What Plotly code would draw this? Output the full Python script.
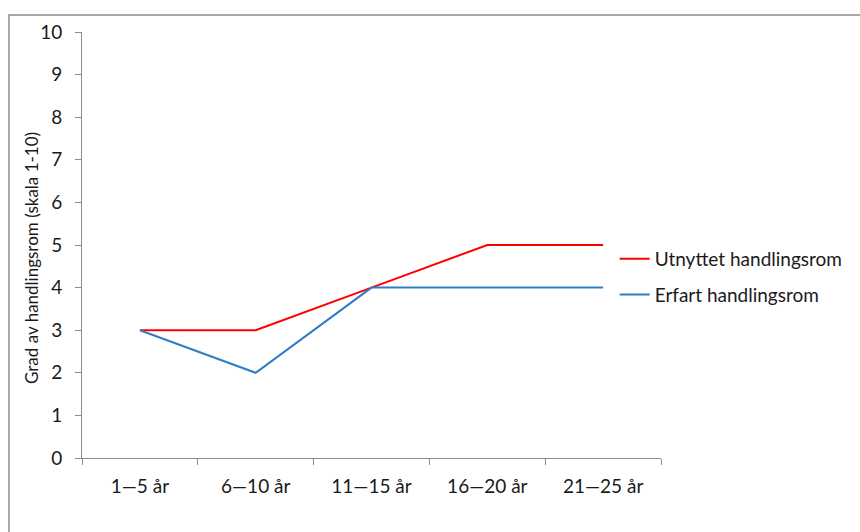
import plotly.graph_objects as go

categories = ["1—5 år", "6—10 år", "11—15 år", "16—20 år", "21—25 år"]
utnyttet = [3, 3, 4, 5, 5]
erfart = [3, 2, 4, 4, 4]
y_ticks = list(range(0, 11))

FONT = "Lato"
AXIS_GREY = "#8c8c8c"
TEXT = "#1a1a1a"

fig = go.Figure()
fig.add_trace(go.Scatter(
    x=categories, y=utnyttet, mode="lines", name="Utnyttet handlingsrom",
    line=dict(color="#ff0000", width=2), legendgroup="a",
))
fig.add_trace(go.Scatter(
    x=categories, y=erfart, mode="lines", name="Erfart handlingsrom",
    line=dict(color="#2e7dc6", width=2), legendgroup="b",
))

fig.update_layout(
    width=860, height=532,
    margin=dict(l=82, r=199, t=32, b=74),
    paper_bgcolor="white", plot_bgcolor="white",
    font=dict(family=FONT, size=19, color=TEXT),
    showlegend=True,
    legend=dict(
        x=0.92, y=0.425, xanchor="left", yanchor="middle",
        font=dict(family=FONT, size=19, color=TEXT),
        traceorder="grouped", tracegroupgap=8,
        bgcolor="rgba(0,0,0,0)",
    ),
    xaxis=dict(
        type="category", range=[-0.5, 4.5],
        showline=True, linecolor=AXIS_GREY, linewidth=1,
        ticks="outside", tickson="boundaries", ticklen=6, tickcolor=AXIS_GREY,
        ticklabelstandoff=11,
        showgrid=False, zeroline=False,
        tickfont=dict(family=FONT, size=19, color=TEXT),
    ),
    yaxis=dict(
        range=[0, 10], tickvals=y_ticks,
        showline=True, linecolor=AXIS_GREY, linewidth=1,
        ticks="outside", ticklen=6, tickcolor=AXIS_GREY,
        ticklabelstandoff=9,
        showgrid=False, zeroline=False,
        tickfont=dict(family=FONT, size=19, color=TEXT),
    ),
)

# vertical axis title
fig.add_annotation(
    text="Grad av handlingsrom (skala 1-10)", textangle=-90,
    xref="paper", yref="paper",
    x=(31 - 82) / 579, y=(458 - 258) / 426,
    xanchor="center", yanchor="middle", showarrow=False,
    font=dict(family=FONT, size=17, color=TEXT),
)

# outer chart frame
fig.add_shape(type="rect", xref="paper", yref="paper",
              x0=(9 - 82) / 579, x1=(880 - 82) / 579,
              y0=(458 - 560) / 426, y1=(458 - 15) / 426,
              line=dict(color=AXIS_GREY, width=1.5), layer="below")

fig.write_html("out.html")
